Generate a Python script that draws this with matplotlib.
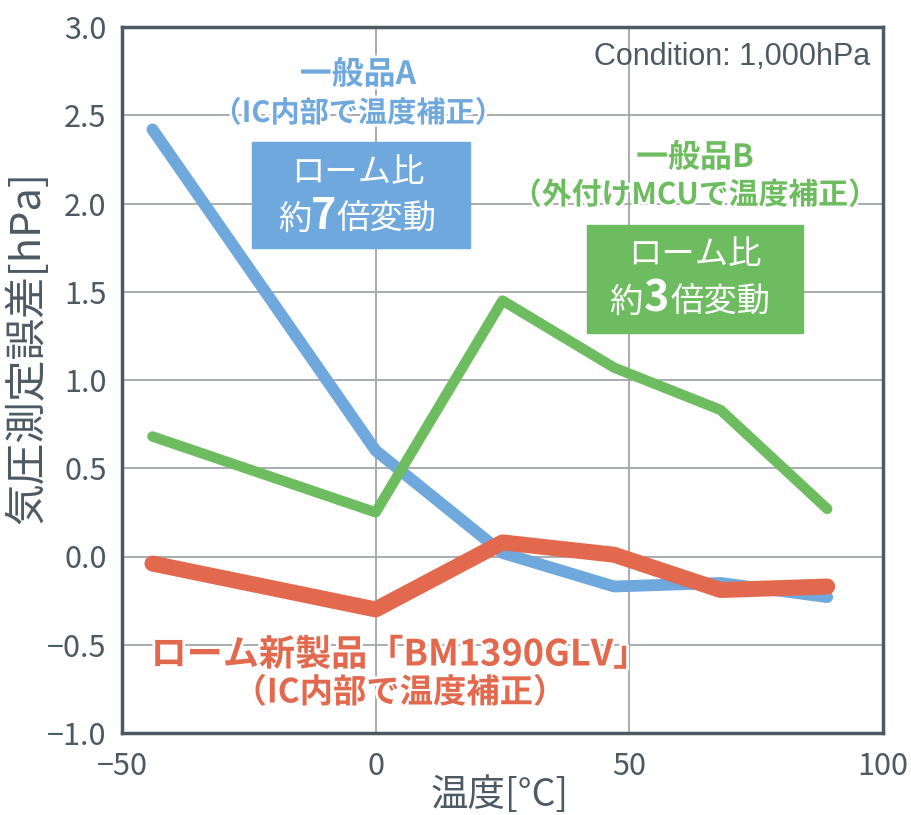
import matplotlib
matplotlib.use("Agg")
import matplotlib.pyplot as plt
import matplotlib.patheffects as pe
from matplotlib.patches import Rectangle

plt.rcParams['font.family'] = ['Noto Sans CJK JP', 'DejaVu Sans']

# data
temp_a = [-44, 0, 25, 47, 68, 89]
err_a = [2.42, 0.60, 0.02, -0.17, -0.15, -0.23]

temp_b = [-44, 0, 25, 47, 68, 89]
err_b = [0.68, 0.25, 1.45, 1.07, 0.83, 0.27]

temp_rohm = [-44, 0, 25, 47, 68, 89]
err_rohm = [-0.04, -0.30, 0.08, 0.01, -0.19, -0.17]

xticks = [-50, 0, 50, 100]
yticks = [-1.0, -0.5, 0.0, 0.5, 1.0, 1.5, 2.0, 2.5, 3.0]

BLUE = '#6fa8dc'
GREEN = '#6dbd60'
RED = '#e2694d'
GRAY = '#4d5a63'

W, H = 911, 815
fig = plt.figure(figsize=(W / 100, H / 100), dpi=100)
ax = fig.add_axes([122 / W, 1 - 733 / H, (883 - 122) / W, (733 - 27) / H])

ax.plot(temp_a, err_a, color=BLUE, lw=8.5, solid_capstyle='round', solid_joinstyle='round', zorder=3)
ax.plot(temp_b, err_b, color=GREEN, lw=7.5, solid_capstyle='round', solid_joinstyle='round', zorder=4)
ax.plot(temp_rohm, err_rohm, color=RED, lw=11.5, solid_capstyle='round', solid_joinstyle='round', zorder=5)

ax.set_xlim(-50, 100)
ax.set_ylim(-1.0, 3.0)
ax.set_xticks(xticks)
ax.set_yticks(yticks)
ax.set_xticklabels(['\u221250', '0', '50', '100'])
ax.set_yticklabels([('\u2212' if v < 0 else '') + '%.1f' % abs(v) for v in yticks])
ax.tick_params(length=0, labelsize=22, labelcolor=GRAY)
ax.tick_params(axis='y', pad=11)
ax.tick_params(axis='x', pad=13)
ax.grid(True, color='#a3a6a8', lw=1.3, zorder=1)
for s in ax.spines.values():
    s.set_color(GRAY)
    s.set_linewidth(2.5)


def px(x, y):
    return x / W, 1 - y / H


fig.text(*px(27, 347), '気圧測定誤差[hPa]', fontsize=30, color=GRAY, rotation=90,
         ha='center', va='center')
fig.text(*px(500, 795), '温度[°C]', fontsize=27, color=GRAY, ha='center', va='center')

halo = [pe.withStroke(linewidth=4, foreground='white')]

fig.text(*px(870, 57), 'Condition: 1,000hPa', fontsize=22, color=GRAY,
         family='Liberation Sans', ha='right', va='center')

# product A labels
fig.text(*px(358, 75), '一般品A', fontsize=23, color=BLUE, weight='bold',
         ha='center', va='center', path_effects=halo)
fig.text(*px(358, 113), '（IC内部で温度補正）', fontsize=21, color=BLUE, weight='bold',
         ha='center', va='center', path_effects=halo)
fig.add_artist(Rectangle(px(252, 248), (470 - 252) / W, (248 - 142) / H,
                         transform=fig.transFigure, color=BLUE, zorder=6))
fig.text(*px(358, 172), 'ローム比', fontsize=24, color='white', ha='center', va='center', zorder=7)
fig.text(*px(312, 219), '約', fontsize=24, color='white', ha='right', va='center', zorder=7)
fig.text(*px(324, 216), '7', fontsize=31, color='white', weight='bold', ha='center', va='center', zorder=7)
fig.text(*px(336, 219), '倍変動', fontsize=24, color='white', ha='left', va='center', zorder=7)

# product B labels
fig.text(*px(695, 158), '一般品B', fontsize=23, color=GREEN, weight='bold',
         ha='center', va='center', path_effects=halo)
fig.text(*px(695, 195), '（外付けMCUで温度補正）', fontsize=21.5, color=GREEN, weight='bold',
         ha='center', va='center', path_effects=halo)
fig.add_artist(Rectangle(px(587, 333), (803 - 587) / W, (333 - 225) / H,
                         transform=fig.transFigure, color=GREEN, zorder=6))
fig.text(*px(695, 255), 'ローム比', fontsize=24, color='white', ha='center', va='center', zorder=7)
fig.text(*px(643, 302), '約', fontsize=24, color='white', ha='right', va='center', zorder=7)
fig.text(*px(657, 299), '3', fontsize=31, color='white', weight='bold', ha='center', va='center', zorder=7)
fig.text(*px(670, 302), '倍変動', fontsize=24, color='white', ha='left', va='center', zorder=7)

# ROHM labels
fig.text(*px(400, 655), 'ローム新製品「BM1390GLV」', fontsize=26, color=RED, weight='bold',
         ha='center', va='center', path_effects=halo)
fig.text(*px(400, 693), '（IC内部で温度補正）', fontsize=24, color=RED, weight='bold',
         ha='center', va='center', path_effects=halo)

fig.savefig('out.png', dpi=100)
